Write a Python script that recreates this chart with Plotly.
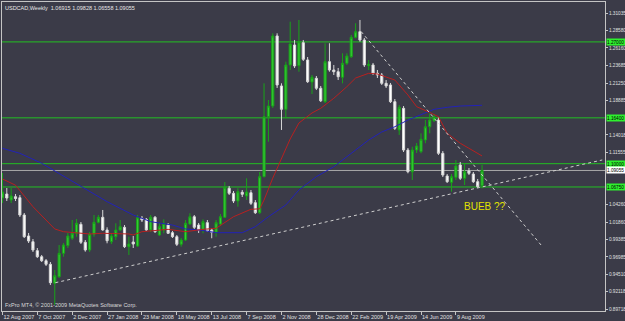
import pandas as pd
import plotly.graph_objects as go

# ---------------- data ----------------
week_start = "2007-08-12"
n_weeks = 111

opens = [
    1.0521, 1.0577, 1.0493, 1.0539, 1.0525, 1.0284, 0.9991, 0.9911, 0.9786, 0.9702,
    0.9646, 0.9596, 0.9331, 0.9423, 0.9749, 0.9856, 0.9959, 1.0029, 1.0154, 0.9903,
    0.9796, 1.0015, 1.0182, 1.0252, 1.0075, 0.9911, 0.9981, 1.0075, 1.0112, 0.9842,
    0.9907, 0.9851, 1.0238, 1.0224, 1.0075, 1.0252, 1.0005, 1.0075, 1.0144, 1.0037,
    0.9981, 0.9875, 0.9935, 1.0158, 1.0260, 1.0144, 1.0075, 1.0177, 1.0075, 1.0043,
    1.0158, 1.0252, 1.0657, 1.0587, 1.0479, 1.0601, 1.0549, 1.0595, 1.0456, 1.0316,
    1.0819, 1.1656, 1.1805, 1.2783, 1.2085, 1.1759, 1.2378, 1.2657, 1.2368, 1.2689,
    1.2448, 1.2140, 1.2192, 1.2053, 1.1866, 1.2424, 1.2308, 1.2284, 1.2206, 1.2401,
    1.2494, 1.2764, 1.2843, 1.2727, 1.2368, 1.2378, 1.2262, 1.2238, 1.2122, 1.2099,
    1.1866, 1.1471, 1.1773, 1.1191, 1.0888, 1.1191, 1.1168, 1.1331, 1.1516, 1.1600,
    1.1610, 1.1145, 1.0828, 1.0740, 1.0810, 1.0982, 1.0796, 1.0898, 1.0856, 1.0749,
    1.06915]
highs = [
    1.0870, 1.0661, 1.0661, 1.0577, 1.0563, 1.0312, 1.0033, 0.9949, 0.9823, 0.9726,
    0.9670, 0.9628, 0.9516, 0.9865, 0.9893, 1.0033, 1.0214, 1.0228, 1.0186, 0.9935,
    1.0047, 1.0284, 1.0284, 1.0354, 1.0112, 1.0019, 1.0168, 1.0214, 1.0144, 0.9981,
    0.9991, 1.0284, 1.0270, 1.0242, 1.0284, 1.0270, 1.0172, 1.0224, 1.0172, 1.0061,
    1.0005, 0.9963, 1.0214, 1.0308, 1.0284, 1.0172, 1.0224, 1.0214, 1.0098, 1.0214,
    1.0298, 1.0745, 1.0689, 1.0619, 1.0657, 1.0633, 1.0796, 1.0633, 1.0493, 1.0884,
    1.2122, 1.1889, 1.2820, 1.2820, 1.2122, 1.2424, 1.2982, 1.2727, 1.3006, 1.2727,
    1.2489, 1.2238, 1.2224, 1.2085, 1.2681, 1.2681, 1.2378, 1.2336, 1.2541, 1.2541,
    1.2797, 1.2960, 1.3006, 1.2755, 1.2448, 1.2406, 1.2308, 1.2266, 1.2168, 1.2127,
    1.1903, 1.1819, 1.1805, 1.1219, 1.1237, 1.1289, 1.1424, 1.1610, 1.1704, 1.1694,
    1.1652, 1.1177, 1.0856, 1.0856, 1.1052, 1.1024, 1.1006, 1.0940, 1.0884, 1.0787,
    1.09828]
lows = [
    1.0451, 1.0479, 1.0451, 1.0479, 1.0256, 0.9963, 0.9893, 0.9768, 0.9684, 0.9628,
    0.9572, 0.9307, 0.9028, 0.9405, 0.9702, 0.9823, 0.9935, 0.9981, 0.9879, 0.9772,
    0.9768, 0.9981, 1.0168, 1.0065, 0.9889, 0.9879, 0.9935, 1.0061, 0.9823, 0.9726,
    0.9823, 0.9837, 1.0186, 1.0061, 1.0047, 1.0033, 0.9991, 1.0029, 1.0019, 0.9963,
    0.9851, 0.9842, 0.9921, 1.0144, 1.0089, 1.0033, 1.0029, 1.0047, 0.9959, 0.9981,
    1.0131, 1.0242, 1.0563, 1.0451, 1.0400, 1.0535, 1.0493, 1.0424, 1.0298, 1.0298,
    1.0810, 1.1307, 1.1778, 1.2057, 1.1471, 1.1634, 1.2308, 1.2336, 1.2284, 1.2434,
    1.2127, 1.1973, 1.2029, 1.1861, 1.1847, 1.2284, 1.2238, 1.2168, 1.2122, 1.2378,
    1.2475, 1.2750, 1.2703, 1.2350, 1.2308, 1.2238, 1.2196, 1.2099, 1.2057, 1.1847,
    1.1471, 1.1401, 1.1163, 1.0866, 1.0773, 1.1149, 1.1145, 1.1285, 1.1424, 1.1582,
    1.1122, 1.0814, 1.0731, 1.0609, 1.0773, 1.0773, 1.0703, 1.0842, 1.0731, 1.0661,
    1.06558]
closes = [
    1.0605, 1.0521, 1.0549, 1.0514, 1.0284, 0.9981, 0.9921, 0.9796, 0.9702, 0.9646,
    0.9596, 0.9339, 0.9437, 0.9749, 0.9865, 0.9991, 1.0029, 1.0168, 0.9903, 0.9796,
    1.0015, 1.0182, 1.0252, 1.0075, 0.9925, 0.9991, 1.0075, 1.0121, 0.9842, 0.9879,
    0.9879, 1.0246, 1.0214, 1.0075, 1.0252, 1.0051, 1.0121, 1.0168, 1.0029, 0.9981,
    0.9875, 0.9935, 1.0168, 1.0260, 1.0112, 1.0075, 1.0191, 1.0065, 1.0043, 1.0177,
    1.0260, 1.0671, 1.0587, 1.0479, 1.0609, 1.0573, 1.0605, 1.0447, 1.0316, 1.0819,
    1.1656, 1.1805, 1.2783, 1.2099, 1.1759, 1.2378, 1.2671, 1.2364, 1.2703, 1.2457,
    1.2145, 1.2206, 1.2053, 1.1879, 1.2424, 1.2308, 1.2284, 1.2214, 1.2401, 1.2503,
    1.2764, 1.2843, 1.2727, 1.2378, 1.2388, 1.2262, 1.2238, 1.2122, 1.2085, 1.1866,
    1.1494, 1.1787, 1.1191, 1.0888, 1.1191, 1.1247, 1.1341, 1.1516, 1.1610, 1.1656,
    1.1145, 1.0842, 1.0749, 1.0819, 1.0968, 1.0796, 1.0888, 1.0866, 1.0749, 1.0679,
    1.09055]

# moving averages (week index -> value)
red_ma_weeks = [0, 3, 7, 12, 14, 20, 23, 29, 30, 32, 38, 42, 46, 49, 53, 57, 59, 60, 62, 64,
                66, 68, 71, 73, 76, 79, 81, 84, 86, 88, 90, 93, 95, 98, 100, 102, 105, 107, 110]
red_ma_vals = [1.0787, 1.0700, 1.0400, 1.0089, 1.0051, 1.0019, 1.0029, 1.0019, 1.0005, 1.0051,
               1.0084, 1.0051, 1.0084, 1.0098, 1.0260, 1.0364, 1.0370, 1.0493, 1.0798, 1.1080,
               1.1345, 1.1568, 1.1708, 1.1773, 1.1913, 1.2075, 1.2196, 1.2262, 1.2252, 1.2210,
               1.2168, 1.1959, 1.1796, 1.1715, 1.1656, 1.1424, 1.1285, 1.1215, 1.1108]
blue_ma_weeks = [0, 4, 9, 13, 19, 24, 30, 34, 39, 42, 46, 49, 55, 58, 61, 65, 68, 72, 76, 80,
                 84, 87, 90, 93, 96, 99, 102, 105, 110]
blue_ma_vals = [1.1215, 1.1145, 1.1006, 1.0866, 1.0657, 1.0470, 1.0284, 1.0191, 1.0144, 1.0089,
                1.0068, 1.0037, 1.0037, 1.0121, 1.0260, 1.0424, 1.0633, 1.0819, 1.0958, 1.1145,
                1.1331, 1.1443, 1.1516, 1.1610, 1.1680, 1.1759, 1.1787, 1.1805, 1.1815]

# trend lines
up_trend_dates = ["2007-11-05", "2010-04-01"]
up_trend_vals = [0.9339, 1.1052]
down_trend_dates = ["2009-03-10", "2009-12-26"]
down_trend_vals = [1.2843, 0.9842]

# horizontal levels
green_levels = [1.27000, 1.16400, 1.10000, 1.06750]
bid_price = 1.09055

y_tick_vals = [1.31035, 1.28580, 1.26160, 1.23685, 1.21250, 1.18885, 1.14018, 1.11555,
               1.04260, 1.01860, 0.99385, 0.96985, 0.94510, 0.92118, 0.89718]
x_tick_labels = ["12 Aug 2007", "7 Oct 2007", "2 Dec 2007", "27 Jan 2008", "23 Mar 2008",
                 "18 May 2008", "13 Jul 2008", "7 Sep 2008", "2 Nov 2008", "28 Dec 2008",
                 "22 Feb 2009", "19 Apr 2009", "14 Jun 2009", "9 Aug 2009"]

header_text = "USDCAD,Weekly  1.06915 1.09828 1.06558 1.09055"
copyright_text = "FxPro MT4, \u00a9 2001-2009 MetaQuotes Software Corp."
note_text = "BUEB ??"

# ---------------- figure ----------------
dates = pd.date_range(week_start, periods=n_weeks, freq="7D")
x_tick_vals = pd.to_datetime(x_tick_labels, format="%d %b %Y")
t0 = pd.Timestamp(week_start)

BG = "#3b3b48"
AX = "#c4c4c4"
FONT = "Liberation Sans"

fig = go.Figure()

for lvl in green_levels:
    fig.add_shape(type="line", xref="paper", x0=0, x1=1, yref="y", y0=lvl, y1=lvl,
                  line=dict(color="#22c022", width=1), layer="below")
fig.add_shape(type="line", xref="paper", x0=0, x1=1, yref="y", y0=bid_price, y1=bid_price,
              line=dict(color="#a8a8a8", width=1), layer="below")

fig.add_trace(go.Scatter(x=dates[blue_ma_weeks], y=blue_ma_vals, mode="lines",
                         line=dict(color="#2222b8", width=1), hoverinfo="skip"))
fig.add_trace(go.Scatter(x=dates[red_ma_weeks], y=red_ma_vals, mode="lines",
                         line=dict(color="#b82020", width=1), hoverinfo="skip"))

fig.add_trace(go.Candlestick(
    x=dates, open=opens, high=highs, low=lows, close=closes,
    increasing=dict(line=dict(color="#19a319", width=1), fillcolor="#35cc35"),
    decreasing=dict(line=dict(color="#d8d8d8", width=1), fillcolor="#ffffff"),
    whiskerwidth=0, hoverinfo="skip"))

fig.add_trace(go.Scatter(x=pd.to_datetime(up_trend_dates), y=up_trend_vals, mode="lines",
                         line=dict(color="#cfcfcf", width=1, dash="dot"), hoverinfo="skip"))
fig.add_trace(go.Scatter(x=pd.to_datetime(down_trend_dates), y=down_trend_vals, mode="lines",
                         line=dict(color="#cfcfcf", width=1, dash="dot"), hoverinfo="skip"))

ann = []
ann.append(dict(text=header_text, xref="paper", yref="paper", x=0, y=1, xanchor="left",
                yanchor="top", xshift=1, yshift=-1, showarrow=False,
                font=dict(family=FONT, size=5.5, color="#e6e6e6")))
ann.append(dict(text=copyright_text, xref="paper", yref="paper", x=0, y=0, xanchor="left",
                yanchor="bottom", xshift=1, yshift=1, showarrow=False,
                font=dict(family=FONT, size=5.5, color="#d8d8d8")))
ann.append(dict(text=note_text, xref="x", yref="y", x=pd.Timestamp("2009-09-25"), y=1.0396,
                xanchor="center", yanchor="middle", showarrow=False,
                font=dict(family=FONT, size=10, color="#e2e200")))
for lvl in green_levels:
    ann.append(dict(text=f"{lvl:.5f}", xref="paper", yref="y", x=1, y=lvl, xanchor="left",
                    yanchor="middle", xshift=1, showarrow=False, bgcolor="#2ef02e",
                    borderpad=0, width=19, height=6, align="left",
                    font=dict(family=FONT, size=4.7, color="#000000")))
ann.append(dict(text=f"{bid_price:.5f}", xref="paper", yref="y", x=1, y=bid_price,
                xanchor="left", yanchor="middle", xshift=1, showarrow=False,
                bgcolor="#ffffff", borderpad=0, width=19, height=6, align="left",
                font=dict(family=FONT, size=4.7, color="#000000")))

fig.update_layout(
    width=625, height=321,
    margin=dict(l=2, r=20, t=2, b=10, autoexpand=False),
    paper_bgcolor=BG, plot_bgcolor=BG,
    showlegend=False,
    boxgap=0.3,
    annotations=ann,
    xaxis=dict(
        range=[t0 - pd.Timedelta(days=0.7), t0 + pd.Timedelta(days=967.4)],
        rangeslider=dict(visible=False),
        automargin=False,
        showgrid=False, zeroline=False,
        showline=True, mirror=True, linecolor=AX, linewidth=1,
        tickvals=x_tick_vals, ticktext=x_tick_labels, tickangle=0,
        ticks="outside", ticklen=3, tickcolor=AX, tickwidth=1,
        ticklabelposition="outside right",
        tickfont=dict(family=FONT, size=5.5, color="#e0e0e0"),
    ),
    yaxis=dict(
        range=[0.8944, 1.3257], side="right",
        automargin=False,
        showgrid=False, zeroline=False,
        showline=True, mirror=True, linecolor=AX, linewidth=1,
        tickvals=y_tick_vals, ticktext=[f"{v:.5f}" for v in y_tick_vals],
        ticks="outside", ticklen=2, tickcolor=AX, tickwidth=1,
        ticklabelstandoff=0,
        tickfont=dict(family=FONT, size=4.7, color="#e0e0e0"),
    ),
)

fig.write_html("out.html")
